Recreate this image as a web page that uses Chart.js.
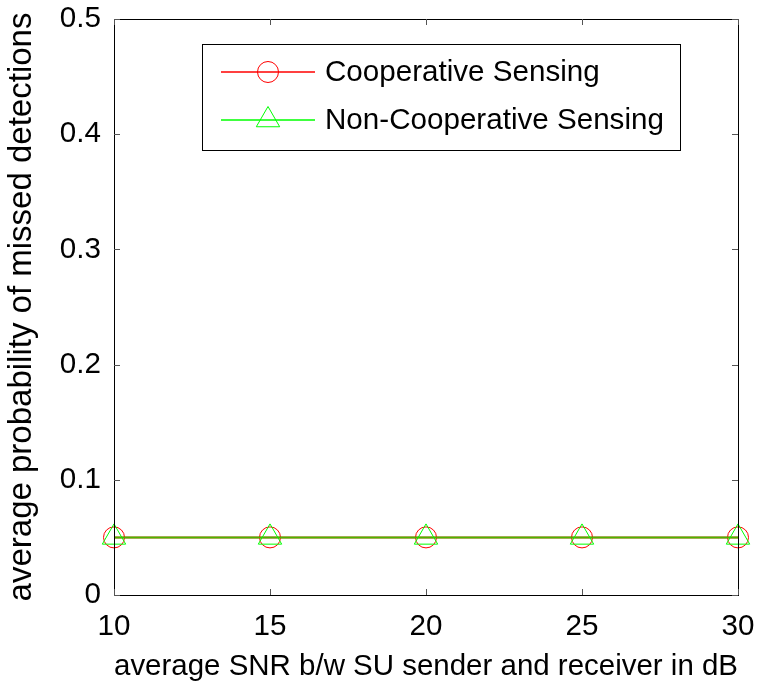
<!DOCTYPE html>
<html>
<head>
<meta charset="utf-8">
<script src="https://cdn.jsdelivr.net/npm/chart.js@4/dist/chart.umd.min.js"></script>
<style>
html, body { margin: 0; padding: 0; background: #fff; }
</style>
</head>
<body>
<canvas id="line-chart" width="759" height="689"></canvas>
<script>
// values
let snr = [10, 15, 20, 25, 30];
let coopPmd = [0.05, 0.05, 0.05, 0.05, 0.05];
let nonCoopPmd = [0.05, 0.05, 0.05, 0.05, 0.05];
let xTicks = [10, 15, 20, 25, 30];
let yTicks = [0, 0.1, 0.2, 0.3, 0.4, 0.5];
let seriesNames = ["Cooperative Sensing", "Non-Cooperative Sensing"];

let fontName = "'Liberation Sans', Arial, Helvetica, sans-serif";
let fs = 29.6;

// matlab style box with ticks pointing inward, plus the legend box
let matlabBox = {
    id: 'matlabBox',
    afterDraw(chart) {
        let ctx = chart.ctx;
        let a = chart.chartArea;
        let xs = chart.scales.x, ys = chart.scales.y;
        ctx.save();
        ctx.strokeStyle = '#000';
        ctx.lineWidth = 1;
        ctx.strokeRect(a.left + 0.5, a.top + 0.5, a.right - a.left, a.bottom - a.top);
        ctx.strokeStyle = '#555';
        ctx.beginPath();
        xTicks.forEach(function (v) {
            let px = Math.round(xs.getPixelForValue(v)) + 0.5;
            ctx.moveTo(px, a.bottom); ctx.lineTo(px, a.bottom - 6);
            ctx.moveTo(px, a.top); ctx.lineTo(px, a.top + 6);
        });
        yTicks.forEach(function (v) {
            let py = Math.round(ys.getPixelForValue(v)) + 0.5;
            ctx.moveTo(a.left, py); ctx.lineTo(a.left + 6, py);
            ctx.moveTo(a.right, py); ctx.lineTo(a.right - 6, py);
        });
        ctx.stroke();

        // legend
        let lx = 202, ly = 44, lw = 478, lh = 106;
        ctx.fillStyle = '#fff';
        ctx.fillRect(lx, ly, lw, lh);
        ctx.strokeStyle = '#000';
        ctx.strokeRect(lx + 0.5, ly + 0.5, lw, lh);
        let rows = [72, 120];
        chart.data.datasets.forEach(function (ds, i) {
            let y = rows[i];
            ctx.strokeStyle = ds.legendColor;
            ctx.lineWidth = 1.5;
            ctx.beginPath();
            ctx.moveTo(221, y); ctx.lineTo(315, y);
            ctx.stroke();
            ctx.lineWidth = 1;
            ctx.fillStyle = 'rgba(0,0,0,0)';
            Chart.helpers.drawPoint(ctx, {
                pointStyle: ds.pointStyle, radius: ds.pointRadius, rotation: 0, borderWidth: 1
            }, 268, y);
            ctx.fillStyle = '#000';
            ctx.font = fs + 'px ' + fontName;
            ctx.textBaseline = 'middle';
            ctx.textAlign = 'left';
            ctx.fillText(ds.label, 325, y + 1);
        });
        ctx.restore();
    }
};

new Chart(document.getElementById("line-chart"), {
    type: 'line',
    data: {
        datasets: [{
            label: seriesNames[0],
            data: snr.map((x, i) => ({ x: x, y: coopPmd[i] })),
            order: 1,
            borderColor: '#ff0000',
            legendColor: '#ff0000',
            borderWidth: 2,
            pointStyle: 'circle',
            pointRadius: 10.5,
            pointBorderWidth: 1,
            pointBackgroundColor: 'rgba(0,0,0,0)',
            pointBorderColor: '#ff0000',
            clip: false
        }, {
            label: seriesNames[1],
            data: snr.map((x, i) => ({ x: x, y: nonCoopPmd[i] })),
            order: 0,
            borderColor: 'rgba(0,255,0,0.7)',
            legendColor: '#00ff00',
            borderWidth: 2,
            pointStyle: 'triangle',
            pointRadius: 13.5,
            pointBorderWidth: 1,
            pointBackgroundColor: 'rgba(0,0,0,0)',
            pointBorderColor: '#00ff00',
            clip: false
        }]
    },
    options: {
        responsive: false,
        devicePixelRatio: 1,
        animation: false,
        layout: { padding: { top: 19, right: 21, left: 0, bottom: 0 } },
        plugins: {
            legend: { display: false },
            tooltip: { enabled: false }
        },
        scales: {
            x: {
                type: 'linear',
                min: 10,
                max: 30,
                afterBuildTicks: s => { s.ticks = xTicks.map(v => ({ value: v })); },
                afterFit: s => {
                    s.height = 94;
                    s.paddingLeft = 0;
                    s.paddingRight = 0;
                },
                grid: { display: false, drawTicks: false },
                border: { display: false },
                ticks: {
                    color: '#000',
                    padding: 14,
                    maxRotation: 0,
                    font: { family: fontName, size: fs }
                },
                title: {
                    display: true,
                    text: 'average SNR b/w SU sender and receiver in dB',
                    color: '#000',
                    font: { family: fontName, size: fs },
                    padding: { top: 0, bottom: 4 }
                }
            },
            y: {
                min: 0,
                max: 0.5,
                afterBuildTicks: s => { s.ticks = yTicks.map(v => ({ value: v })); },
                afterFit: s => {
                    s.width = 114;
                    s.paddingTop = 0;
                    s.paddingBottom = 0;
                },
                grid: { display: false, drawTicks: false },
                border: { display: false },
                ticks: {
                    color: '#000',
                    padding: 13,
                    font: { family: fontName, size: fs },
                    callback: v => v === 0 ? '0' : v.toFixed(1)
                },
                title: {
                    display: true,
                    text: 'average probability of missed detections',
                    color: '#000',
                    font: { family: fontName, size: 33 },
                    padding: { top: 2, bottom: 0 }
                }
            }
        }
    },
    plugins: [matlabBox]
});
</script>
</body>
</html>
